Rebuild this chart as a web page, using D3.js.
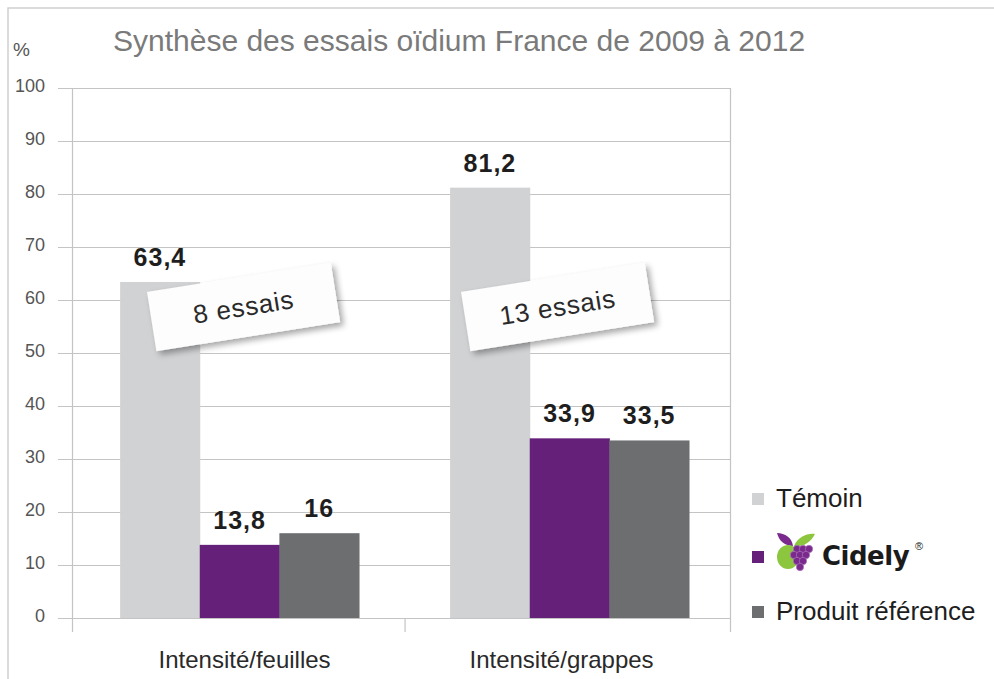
<!DOCTYPE html>
<html>
<head>
<meta charset="utf-8">
<script src="https://cdn.jsdelivr.net/npm/d3@7"></script>
<style>
  body { margin: 0; background: #fff; }
  svg { display: block; font-family: "Liberation Sans", Arial, sans-serif; }
</style>
</head>
<body>
<div id="chart"></div>
<script>
const categories = ["Intensité/feuilles", "Intensité/grappes"];
const seriesNames = ["Témoin", "Cidely", "Produit référence"];
const temoin = [63.4, 81.2];
const cidely = [13.8, 33.9];
const produit = [16, 33.5];
const yTicks = [0, 10, 20, 30, 40, 50, 60, 70, 80, 90, 100];
const notes = ["8 essais", "13 essais"];

const width = 994;
const height = 679;
const colors = ["#d1d2d4", "#65207a", "#6d6e70"];
const gridColor = "#c4c4c4";

const svg = d3
  .select("#chart")
  .append("svg")
  .attr("width", width)
  .attr("height", height);

// soft shadow for the note cards
const defs = svg.append("defs");
const shadow = defs.append("filter").attr("id", "shadow")
  .attr("x", "-20%").attr("y", "-30%").attr("width", "150%").attr("height", "180%");
shadow.append("feDropShadow")
  .attr("dx", 3).attr("dy", 4).attr("stdDeviation", 3)
  .attr("flood-color", "#000").attr("flood-opacity", 0.35);

// outer frame (left + top)
svg.append("path")
  .attr("d", `M8,${height} L8,8 L${width},8`)
  .attr("fill", "none")
  .attr("stroke", "#d0d0d0")
  .attr("stroke-width", 1.5);

svg.append("text")
  .attr("x", 113)
  .attr("y", 51)
  .attr("fill", "#7a7a7a")
  .style("font-size", "30px")
  .text("Synthèse des essais oïdium France de 2009 à 2012");

svg.append("text")
  .attr("x", 13)
  .attr("y", 56)
  .attr("fill", "#555")
  .style("font-size", "19px")
  .text("%");

const plotLeft = 72, plotRight = 730;
const y = d3.scaleLinear().domain([0, 100]).range([618, 88]);
const x0 = d3.scaleBand()
  .domain(categories)
  .range([plotLeft, plotRight])
  .paddingInner(0.276)
  .paddingOuter(0.135)
  .align(0.54);
const x1 = d3.scaleBand().domain(seriesNames).range([0, x0.bandwidth()]);

// gridlines
svg.append("g")
  .selectAll("line")
  .data(yTicks)
  .enter()
  .append("line")
  .attr("x1", 58)
  .attr("x2", plotRight)
  .attr("y1", (d) => y(d) + 0.5)
  .attr("y2", (d) => y(d) + 0.5)
  .attr("stroke", gridColor)
  .attr("stroke-width", 1.2);

// y labels
svg.append("g")
  .selectAll("text")
  .data(yTicks)
  .enter()
  .append("text")
  .attr("x", 45)
  .attr("y", (d) => y(d) + 4)
  .attr("text-anchor", "end")
  .attr("fill", "#555")
  .style("font-size", "18px")
  .text((d) => d);

// vertical axis, right border and category separator
const sepX = (x0(categories[0]) + x0.bandwidth() + x0(categories[1])) / 2;
[plotLeft, sepX, plotRight].forEach((vx, i) => {
  svg.append("line")
    .attr("x1", vx + 0.5).attr("x2", vx + 0.5)
    .attr("y1", i === 1 ? y(0) : y(100))
    .attr("y2", 632)
    .attr("stroke", gridColor)
    .attr("stroke-width", 1.2);
});

const rows = categories.map((c, i) => ({
  cat: c,
  values: [temoin[i], cidely[i], produit[i]],
}));

const groups = svg.append("g")
  .selectAll("g")
  .data(rows)
  .enter()
  .append("g")
  .attr("transform", (d) => `translate(${x0(d.cat)},0)`);

groups.selectAll("rect")
  .data((d) => d.values.map((v, j) => ({ name: seriesNames[j], v, j })))
  .enter()
  .append("rect")
  .attr("x", (d) => x1(d.name))
  .attr("width", x1.bandwidth() + 0.5)
  .attr("y", (d) => y(d.v))
  .attr("height", (d) => y(0) - y(d.v))
  .attr("fill", (d) => colors[d.j]);

groups.selectAll("text.val")
  .data((d) => d.values.map((v, j) => ({ name: seriesNames[j], v })))
  .enter()
  .append("text")
  .attr("class", "val")
  .attr("x", (d) => x1(d.name) + x1.bandwidth() / 2)
  .attr("y", (d) => y(d.v) - 16)
  .attr("text-anchor", "middle")
  .attr("fill", "#1e1e1e")
  .style("font-size", "25px")
  .style("font-weight", "bold")
  .style("letter-spacing", "1px")
  .text((d) => String(d.v).replace(".", ","));

// category labels (sit slightly toward the middle of the plot)
const catShift = [5, -8];
svg.append("g")
  .selectAll("text")
  .data(categories)
  .enter()
  .append("text")
  .attr("x", (d, i) => x0(d) + x0.bandwidth() / 2 + catShift[i])
  .attr("y", 668)
  .attr("text-anchor", "middle")
  .attr("fill", "#2a2a2a")
  .style("font-size", "24px")
  .text((d) => d);

// rotated "essais" cards
const noteShift = [4, -12];
const noteY = 307;
const cards = svg.append("g")
  .selectAll("g")
  .data(notes)
  .enter()
  .append("g")
  .attr("transform", (d, i) =>
    `translate(${x0(categories[i]) + x0.bandwidth() / 2 + noteShift[i]},${noteY}) rotate(-9)`);

cards.append("rect")
  .attr("x", -93)
  .attr("y", -30)
  .attr("width", 186)
  .attr("height", 60)
  .attr("fill", "#fdfdfd")
  .attr("filter", "url(#shadow)");

cards.append("text")
  .attr("y", 9)
  .attr("text-anchor", "middle")
  .attr("fill", "#2a2a2a")
  .style("font-size", "26px")
  .style("letter-spacing", "0.8px")
  .text((d) => d);

// legend
const legendX = 752;
const legendRows = [507, 565, 620];
const legend = svg.append("g");
seriesNames.forEach((name, i) => {
  legend.append("rect")
    .attr("x", legendX)
    .attr("y", legendRows[i] - 14)
    .attr("width", 12)
    .attr("height", 12)
    .attr("fill", colors[i]);
  if (name !== "Cidely") {
    legend.append("text")
      .attr("x", 776)
      .attr("y", legendRows[i])
      .attr("fill", "#1e1e1e")
      .style("font-size", "26px")
      .text(name);
  }
});

// Cidely logo: leaves, apple, grapes and wordmark
const logo = legend.append("g").attr("transform", `translate(777,${legendRows[1] - 32})`);
logo.append("path")
  .attr("d", "M0,0 C8,0 15,5 16,13 C8,13 2,8 0,0 Z")
  .attr("fill", "#7a2a8c");
logo.append("path")
  .attr("d", "M38,1 C30,0 21,4 17,13 C27,14 34,9 38,1 Z")
  .attr("fill", "#8cc63f");
logo.append("ellipse")
  .attr("cx", 11).attr("cy", 24).attr("rx", 11).attr("ry", 12)
  .attr("fill", "#8cc63f");
const grapes = [[20, 16], [26, 16], [32, 16], [17, 22], [23, 22], [29, 22], [20, 28], [26, 28], [23, 34]];
logo.selectAll("circle")
  .data(grapes)
  .enter()
  .append("circle")
  .attr("cx", (d) => d[0])
  .attr("cy", (d) => d[1])
  .attr("r", 3.7)
  .attr("fill", "#7a2a8c")
  .attr("stroke", "#b07cc0")
  .attr("stroke-width", 0.6);

legend.append("text")
  .attr("x", 822)
  .attr("y", legendRows[1])
  .attr("fill", "#1b1b1b")
  .style("font-family", "'DejaVu Sans', sans-serif")
  .style("font-size", "26px")
  .style("font-weight", "bold")
  .style("letter-spacing", "-0.5px")
  .text("Cidely");
legend.append("text")
  .attr("x", 915)
  .attr("y", legendRows[1] - 15)
  .attr("fill", "#1b1b1b")
  .style("font-size", "11px")
  .text("®");
</script>
</body>
</html>
